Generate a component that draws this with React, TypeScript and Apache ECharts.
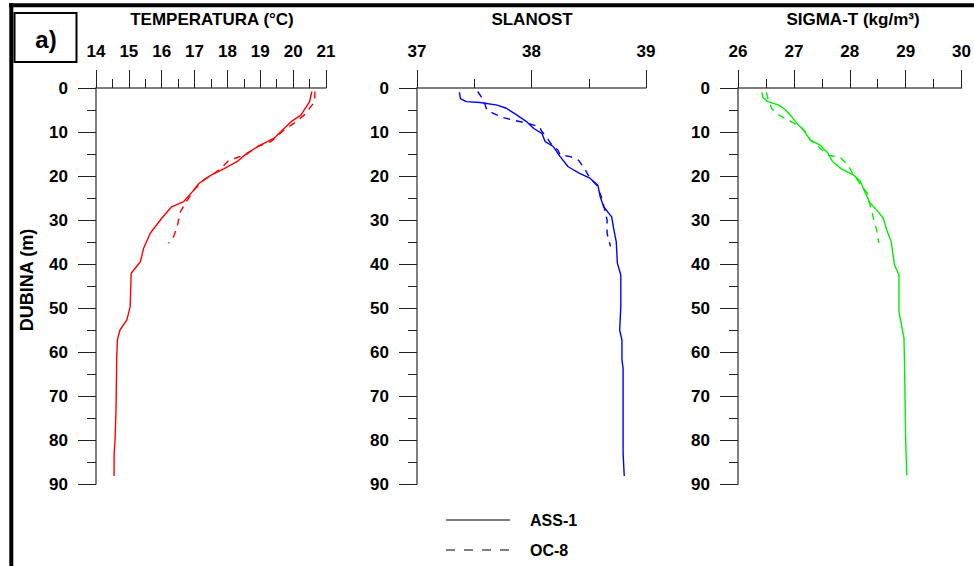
import React, { useEffect, useRef } from "react";
import * as echarts from "echarts";

// ---- DATA ----
const tempAssDepth = [0.8, 3.1, 6.1, 7.7, 9.9, 11.4, 13.0, 14.8, 16.7, 18.3, 19.8, 21.7, 23.6, 25.8, 27.0, 29.6, 33.0, 36.4, 39.5, 42.1, 49.7, 52.7, 55.0, 57.3, 61.4, 72.8, 80.0, 83.4, 88.2];
const tempAssValue = [20.57, 20.5, 20.24, 19.93, 19.63, 19.42, 19.0, 18.6, 18.3, 17.9, 17.5, 17.13, 16.93, 16.67, 16.3, 16.0, 15.65, 15.45, 15.35, 15.07, 15.04, 14.94, 14.73, 14.65, 14.63, 14.61, 14.58, 14.55, 14.55];
const tempOcDepth = [0.8, 3.1, 4.6, 6.1, 8.0, 9.5, 12.2, 13.3, 15.0, 15.8, 16.4, 18.3, 19.4, 20.9, 23.2, 26.2, 28.1, 31.5, 33.8, 35.3];
const tempOcValue = [20.66, 20.66, 20.5, 20.34, 20.03, 19.73, 19.32, 18.91, 18.6, 18.3, 18.05, 17.8, 17.6, 17.28, 16.98, 16.72, 16.57, 16.47, 16.36, 16.21];

const salAssDepth = [1.0, 2.4, 3.1, 3.3, 3.9, 4.6, 6.1, 7.7, 9.2, 10.3, 12.2, 13.3, 15.6, 17.9, 19.4, 20.5, 22.1, 24.7, 27.0, 29.3, 32.3, 34.9, 39.8, 42.5, 49.7, 55.0, 57.3, 61.8, 63.7, 83.0, 88.2];
const salAssValue = [37.37, 37.38, 37.43, 37.55, 37.70, 37.78, 37.87, 37.96, 38.02, 38.09, 38.12, 38.19, 38.25, 38.32, 38.42, 38.51, 38.58, 38.60, 38.63, 38.70, 38.72, 38.74, 38.75, 38.78, 38.78, 38.77, 38.79, 38.79, 38.80, 38.80, 38.81];
const salOcDepth = [0.8, 2.7, 5.0, 5.8, 6.7, 7.3, 8.0, 8.8, 9.9, 11.1, 13.0, 14.1, 15.2, 15.6, 16.4, 18.6, 20.5, 22.1, 24.7, 27.7, 30.0, 33.0, 36.0];
const salOcValue = [37.53, 37.58, 37.61, 37.67, 37.75, 37.84, 37.96, 38.07, 38.09, 38.13, 38.18, 38.23, 38.25, 38.34, 38.41, 38.47, 38.51, 38.57, 38.61, 38.64, 38.66, 38.66, 38.69];

const sigAssDepth = [1.0, 2.1, 3.1, 3.9, 5.0, 6.5, 8.0, 9.5, 11.8, 12.9, 14.8, 16.7, 18.3, 19.8, 21.2, 23.9, 26.1, 27.7, 29.6, 32.2, 34.9, 40.2, 42.5, 50.8, 53.5, 56.9, 62.9, 80.0, 88.0];
const sigAssValue = [26.43, 26.44, 26.53, 26.73, 26.85, 26.96, 27.05, 27.17, 27.29, 27.46, 27.61, 27.69, 27.84, 28.07, 28.19, 28.28, 28.36, 28.48, 28.60, 28.66, 28.74, 28.80, 28.88, 28.88, 28.92, 28.97, 28.98, 29.0, 29.02];
const sigOcDepth = [1.0, 2.7, 4.8, 5.9, 7.2, 7.9, 9.1, 10.3, 11.8, 15.2, 15.9, 17.4, 19.8, 22.8, 23.9, 26.1, 27.7, 30.0, 32.2, 35.2];
const sigOcValue = [26.51, 26.54, 26.61, 26.70, 26.88, 26.99, 27.14, 27.23, 27.29, 27.61, 27.84, 27.96, 28.07, 28.25, 28.31, 28.35, 28.39, 28.43, 28.48, 28.52];

const panelTitles = ["TEMPERATURA (°C)", "SLANOST", "SIGMA-T (kg/m³)"];
const xRanges = [
  { min: 14, max: 21, interval: 1 },
  { min: 37, max: 39, interval: 1 },
  { min: 26, max: 30, interval: 1 },
];
const depthRange = { min: 0, max: 90, interval: 10 };
const seriesNames = ["ASS-1", "OC-8"];
const yAxisTitle = "DUBINA (m)";
const panelLabel = "a)";

const FONT = "'Liberation Sans', Arial, Helvetica, sans-serif";

function zip(depths: number[], values: number[]) {
  return values.map((v, i) => [v, depths[i]]);
}

export default function App() {
  const ref = useRef<HTMLDivElement>(null);

  useEffect(() => {
    if (!ref.current) return;
    const chart = echarts.init(ref.current, undefined, { renderer: "svg" });

    const grids = [
      { left: 96, top: 88, width: 230, height: 396 },
      { left: 417, top: 88, width: 229, height: 396 },
      { left: 738, top: 88, width: 229, height: 396 },
    ];

    const axisLineStyle = { color: "#555", width: 1.5 };
    const tickStyle = { color: "#222", width: 1 };

    const xAxis = xRanges.map((r, i) => ({
      type: "value",
      gridIndex: i,
      position: "top",
      min: r.min,
      max: r.max,
      interval: r.interval,
      axisLine: { show: true, onZero: false, lineStyle: axisLineStyle },
      axisTick: { show: true, length: 18, lineStyle: tickStyle },
      minorTick: { show: true, splitNumber: 2, length: 9, lineStyle: tickStyle },
      splitLine: { show: false },
      axisLabel: {
        margin: 28,
        color: "#000",
        fontFamily: FONT,
        fontWeight: "bold",
        fontSize: 17,
      },
    }));

    const yAxis = grids.map((_, i) => ({
      type: "value",
      gridIndex: i,
      inverse: true,
      min: depthRange.min,
      max: depthRange.max,
      interval: depthRange.interval,
      axisLine: { show: true, onZero: false, lineStyle: axisLineStyle },
      axisTick: { show: true, length: 18, lineStyle: tickStyle },
      minorTick: { show: true, splitNumber: 2, length: 9, lineStyle: tickStyle },
      splitLine: { show: false },
      axisLabel: {
        margin: 28,
        color: "#000",
        fontFamily: FONT,
        fontWeight: "bold",
        fontSize: 17,
      },
    }));

    const colors = ["#ff0000", "#0000ff", "#00ee00"];
    const datasets = [
      [zip(tempAssDepth, tempAssValue), zip(tempOcDepth, tempOcValue)],
      [zip(salAssDepth, salAssValue), zip(salOcDepth, salOcValue)],
      [zip(sigAssDepth, sigAssValue), zip(sigOcDepth, sigOcValue)],
    ];

    const series: any[] = [];
    datasets.forEach((pair, i) => {
      pair.forEach((data, j) => {
        series.push({
          type: "line",
          name: seriesNames[j],
          xAxisIndex: i,
          yAxisIndex: i,
          data,
          showSymbol: false,
          symbol: "none",
          lineStyle: {
            color: colors[i],
            width: 1.4,
            type: j === 0 ? "solid" : [7, 6],
          },
        });
      });
    });

    const titleX = [212, 532, 853];

    const graphic: any[] = [
      // frame
      { type: "line", shape: { x1: 9, y1: 5.3, x2: 974, y2: 5.3 }, style: { stroke: "#000", lineWidth: 4 } },
      { type: "line", shape: { x1: 11.3, y1: 3.3, x2: 11.3, y2: 566 }, style: { stroke: "#000", lineWidth: 4 } },
      // a) box
      { type: "rect", shape: { x: 14.5, y: 13, width: 62, height: 49 }, style: { fill: "#fff", stroke: "#000", lineWidth: 2 } },
      {
        type: "text",
        x: 46,
        y: 39,
        style: { text: panelLabel, fontFamily: FONT, fontWeight: "bold", fontSize: 24, fill: "#000", textAlign: "center", textVerticalAlign: "middle" },
      },
      // y-axis title
      {
        type: "text",
        x: 27,
        y: 280,
        rotation: Math.PI / 2,
        style: { text: yAxisTitle, fontFamily: FONT, fontWeight: "bold", fontSize: 18, fill: "#000", textAlign: "center", textVerticalAlign: "middle" },
      },
      // legend
      { type: "line", shape: { x1: 446, y1: 520, x2: 510, y2: 520 }, style: { stroke: "#000", lineWidth: 1.2 } },
      { type: "line", shape: { x1: 446, y1: 550, x2: 510, y2: 550 }, style: { stroke: "#000", lineWidth: 1.2, lineDash: [9, 9] } },
      {
        type: "text",
        x: 530,
        y: 520,
        style: { text: seriesNames[0], fontFamily: FONT, fontWeight: "bold", fontSize: 16, fill: "#000", textVerticalAlign: "middle" },
      },
      {
        type: "text",
        x: 530,
        y: 550,
        style: { text: seriesNames[1], fontFamily: FONT, fontWeight: "bold", fontSize: 16, fill: "#000", textVerticalAlign: "middle" },
      },
    ];
    panelTitles.forEach((t, i) => {
      graphic.push({
        type: "text",
        x: titleX[i],
        y: 19,
        style: { text: t, fontFamily: FONT, fontWeight: "bold", fontSize: 17, fill: "#000", textAlign: "center", textVerticalAlign: "middle" },
      });
    });

    chart.setOption({
      animation: false,
      backgroundColor: "#fff",
      grid: grids,
      xAxis,
      yAxis,
      series,
      graphic,
    });

    return () => chart.dispose();
  }, []);

  return (
    <div
      ref={ref}
      style={{ position: "fixed", left: 0, top: 0, width: 974, height: 566, background: "#fff" }}
    />
  );
}
